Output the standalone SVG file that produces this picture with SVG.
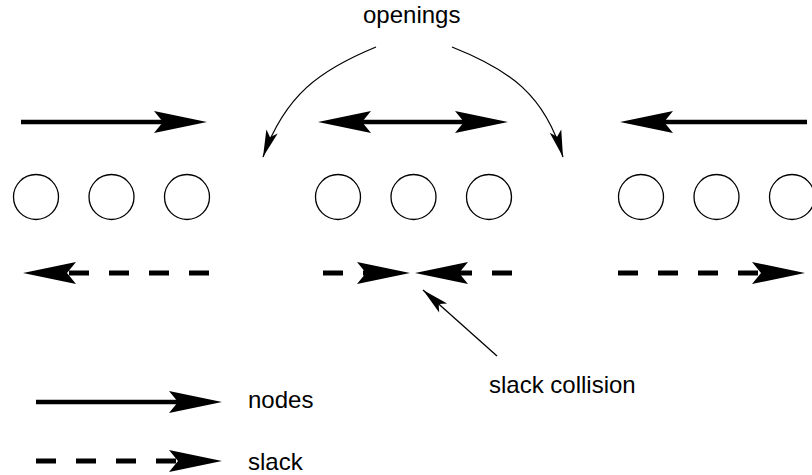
<svg xmlns="http://www.w3.org/2000/svg" width="812" height="475" viewBox="0 0 812 475">
  <style>
    .node { fill: #fff; stroke: #000; stroke-width: 1.3; }
    .solid { fill: none; stroke: #000; stroke-width: 4.5; }
    .dashed { fill: none; stroke: #000; stroke-width: 5; stroke-dasharray: 20 20; }
    .thin { fill: none; stroke: #000; stroke-width: 1.3; }
    .label { font-family: "Liberation Sans", Arial, sans-serif; font-size: 24px; fill: #000; }
  </style>
  <defs>
    <!-- wide filled head; the line ends at the notch, 44px behind the tip -->
    <marker id="big" viewBox="-54 -12 56 24" refX="-44" refY="0" markerWidth="56" markerHeight="24" markerUnits="userSpaceOnUse" orient="auto-start-reverse">
      <path d="M0,0 L-53,-11 L-44,0 L-53,11 Z" fill="#000"/>
    </marker>
    <!-- slim head for the pointer lines -->
    <marker id="small" viewBox="-28 -8 30 16" refX="0" refY="0" markerWidth="30" markerHeight="16" markerUnits="userSpaceOnUse" orient="auto">
      <path d="M0,0 L-27,-6 L-21,0 L-27,6 Z" fill="#000"/>
    </marker>
  </defs>

  <!-- three rows of nodes -->
  <g id="nodes-left">
    <circle class="node" cx="36" cy="197" r="22.5"/>
    <circle class="node" cx="111.5" cy="197" r="22.5"/>
    <circle class="node" cx="187" cy="197" r="22.5"/>
  </g>
  <g id="nodes-middle">
    <circle class="node" cx="338" cy="197" r="22.5"/>
    <circle class="node" cx="413.5" cy="197" r="22.5"/>
    <circle class="node" cx="489" cy="197" r="22.5"/>
  </g>
  <g id="nodes-right">
    <circle class="node" cx="641" cy="197" r="22.5"/>
    <circle class="node" cx="716.5" cy="197" r="22.5"/>
    <circle class="node" cx="792" cy="197" r="22.5"/>
  </g>

  <g id="connectors">
    <!-- node movement -->
    <line class="solid" x1="21" y1="122" x2="163" y2="122" marker-end="url(#big)"/>
    <line class="solid" x1="362" y1="122" x2="464" y2="122" marker-start="url(#big)" marker-end="url(#big)"/>
    <line class="solid" x1="807" y1="122" x2="664" y2="122" marker-end="url(#big)"/>

    <!-- slack -->
    <line class="dashed" x1="209" y1="273" x2="67" y2="273" marker-end="url(#big)"/>
    <line class="dashed" x1="323" y1="273" x2="366" y2="273" marker-end="url(#big)"/>
    <line class="dashed" x1="512" y1="273" x2="459" y2="273" marker-end="url(#big)"/>
    <line class="dashed" x1="618" y1="273" x2="761" y2="273" marker-end="url(#big)"/>

    <!-- pointers -->
    <path class="thin" d="M376,47 C320,70 285,95 263,157" marker-end="url(#small)"/>
    <path class="thin" d="M452,47 C510,70 545,95 563,157" marker-end="url(#small)"/>
    <line class="thin" x1="497" y1="356" x2="423" y2="290" marker-end="url(#small)"/>

    <!-- legend -->
    <line class="solid" x1="36" y1="402" x2="178" y2="402" marker-end="url(#big)"/>
    <line class="dashed" x1="36" y1="461" x2="178" y2="461" marker-end="url(#big)"/>
  </g>

  <g id="labels">
    <text class="label" x="363" y="23">openings</text>
    <text class="label" x="489" y="393">slack collision</text>
    <text class="label" x="248" y="408">nodes</text>
    <text class="label" x="248" y="470">slack</text>
  </g>
</svg>
